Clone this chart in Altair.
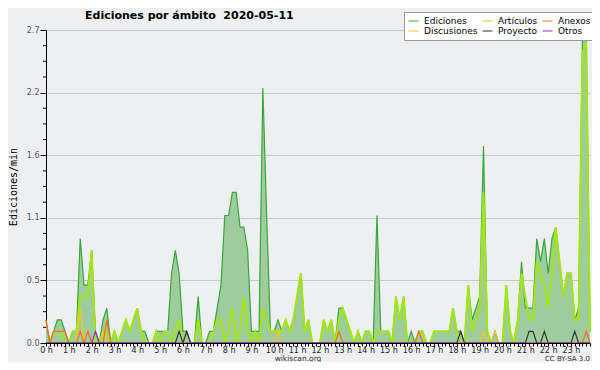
import altair as alt
import pandas as pd

# 10-minute slots (0 .. 143) over the day
slots = list(range(144))

ediciones = [
    0.2, 0, 0.1, 0.2, 0.2, 0.1, 0, 0.1, 0.1, 0.9, 0.5, 0.5,
    0.8, 0.1, 0, 0.2, 0.3, 0, 0.1, 0, 0.1, 0.2, 0.1, 0.2,
    0.3, 0.1, 0.1, 0, 0, 0.1, 0.1, 0.1, 0.1, 0.6, 0.8, 0.6,
    0.1, 0.1, 0, 0, 0.4, 0, 0, 0.1, 0.1, 0.3, 0.5, 1.1,
    1.1, 1.3, 1.3, 1.0, 1.0, 0.8, 0.1, 0.1, 0.1, 2.2, 1.1, 0.1,
    0.1, 0.2, 0.1, 0.2, 0.1, 0.2, 0.4, 0.6, 0.1, 0.2, 0, 0,
    0, 0.2, 0.1, 0.2, 0, 0.3, 0.3, 0.2, 0.1, 0, 0.1, 0,
    0.1, 0.1, 0, 1.1, 0.1, 0.1, 0.1, 0, 0.4, 0.2, 0.4, 0,
    0.1, 0, 0.1, 0.1, 0, 0, 0.1, 0.1, 0.1, 0.1, 0.1, 0.3,
    0.1, 0.1, 0, 0.5, 0.2, 0.3, 0.4, 1.7, 0.1, 0, 0.1, 0,
    0, 0.5, 0.1, 0, 0.2, 0.7, 0.3, 0.3, 0.3, 0.9, 0.7, 0.9,
    0.6, 0.9, 1.0, 0.7, 0.4, 0.6, 0.6, 0.2, 0.3, 2.6, 2.7, 0.1,
]

articulos = [
    0, 0, 0.1, 0.1, 0.1, 0, 0, 0.1, 0.1, 0.4, 0.4, 0.4,
    0.8, 0, 0, 0.1, 0.1, 0, 0.1, 0, 0.1, 0.2, 0.1, 0.2,
    0.3, 0.1, 0, 0, 0, 0.1, 0, 0.1, 0.1, 0, 0.1, 0.2,
    0, 0, 0, 0, 0.2, 0, 0, 0, 0.1, 0.2, 0.2, 0,
    0.1, 0.3, 0, 0.1, 0.4, 0.1, 0, 0.1, 0, 0.3, 0.2, 0.1,
    0.1, 0.1, 0.1, 0.2, 0.1, 0.2, 0.4, 0.6, 0.1, 0.2, 0, 0,
    0, 0.2, 0.1, 0.2, 0, 0.2, 0.3, 0.2, 0.1, 0, 0.1, 0,
    0.1, 0.1, 0, 0.1, 0.1, 0.1, 0.1, 0, 0.4, 0.2, 0.4, 0,
    0, 0, 0.1, 0.1, 0, 0, 0.1, 0.1, 0.1, 0.1, 0.1, 0.3,
    0.1, 0, 0, 0.5, 0.1, 0.2, 0.3, 1.3, 0.1, 0, 0, 0,
    0, 0.5, 0.1, 0, 0.2, 0.6, 0.4, 0.2, 0.2, 0.7, 0.6, 0.5,
    0.3, 0.6, 1.0, 0.7, 0.4, 0.6, 0.6, 0.2, 0.2, 2.5, 2.6, 0.1,
]

discusiones = [
    0, 0, 0, 0, 0, 0, 0, 0, 0, 0.3, 0, 0,
    0, 0, 0, 0.1, 0, 0, 0, 0, 0, 0, 0, 0,
    0, 0, 0, 0, 0, 0, 0, 0, 0, 0, 0, 0,
    0, 0, 0, 0, 0, 0, 0, 0, 0, 0, 0, 0,
    0, 0, 0, 0, 0, 0, 0, 0, 0, 0, 0, 0,
    0, 0.1, 0, 0, 0, 0, 0, 0, 0, 0, 0, 0,
    0, 0, 0, 0, 0, 0, 0, 0, 0, 0, 0, 0,
    0, 0, 0, 0, 0, 0, 0, 0, 0, 0, 0, 0,
    0, 0, 0, 0, 0, 0, 0, 0, 0, 0, 0, 0,
    0, 0, 0, 0, 0, 0, 0, 0.1, 0, 0, 0.1, 0,
    0, 0, 0, 0, 0, 0, 0, 0, 0, 0, 0, 0.1,
    0, 0, 0, 0, 0, 0, 0, 0, 0, 0, 0, 0,
]

anexos = [
    0.2, 0, 0.1, 0.1, 0.1, 0.1, 0, 0, 0, 0.1, 0, 0.1,
    0, 0, 0, 0, 0.2, 0, 0, 0, 0, 0, 0, 0,
    0, 0, 0, 0, 0, 0, 0, 0, 0, 0, 0, 0,
    0, 0, 0, 0, 0, 0, 0, 0, 0, 0, 0, 0,
    0, 0, 0, 0, 0, 0, 0, 0, 0, 0, 0, 0,
    0, 0, 0, 0, 0, 0, 0, 0, 0, 0, 0, 0,
    0, 0, 0, 0, 0, 0.1, 0, 0, 0, 0, 0, 0,
    0, 0, 0, 0, 0, 0, 0, 0, 0, 0, 0, 0,
    0, 0, 0.1, 0, 0, 0, 0, 0, 0, 0, 0, 0,
    0, 0, 0, 0, 0, 0, 0, 0, 0, 0, 0, 0,
    0, 0, 0, 0, 0, 0, 0, 0, 0, 0, 0, 0,
    0, 0, 0, 0, 0, 0, 0, 0, 0, 0, 0.1, 0,
]

proyecto = [
    0, 0, 0, 0, 0, 0, 0, 0, 0, 0, 0, 0,
    0, 0, 0, 0, 0, 0, 0, 0, 0, 0, 0, 0,
    0, 0, 0, 0, 0, 0, 0, 0, 0, 0, 0, 0.1,
    0, 0.1, 0, 0, 0, 0, 0, 0, 0, 0, 0, 0,
    0, 0, 0, 0, 0, 0, 0, 0, 0, 0, 0, 0,
    0, 0, 0, 0, 0, 0, 0, 0, 0, 0, 0, 0,
    0, 0, 0, 0, 0, 0, 0, 0, 0, 0, 0, 0,
    0, 0, 0, 0, 0, 0, 0, 0, 0, 0, 0, 0,
    0, 0, 0, 0, 0, 0, 0, 0, 0, 0, 0, 0,
    0, 0.1, 0, 0, 0, 0, 0, 0, 0, 0, 0, 0,
    0, 0, 0, 0, 0, 0, 0, 0.1, 0.1, 0, 0, 0.1,
    0, 0, 0, 0, 0, 0, 0, 0.1, 0, 0, 0, 0,
]

otros = [
    0, 0, 0, 0, 0, 0, 0, 0, 0, 0, 0, 0,
    0, 0.1, 0, 0, 0, 0, 0, 0, 0, 0, 0, 0,
] + [0] * 120

# legend is filled column by column: (Ediciones, Discusiones), (Artículos, Proyecto), (Anexos, Otros)
series_names = ["Ediciones", "Discusiones", "Artículos", "Proyecto", "Anexos", "Otros"]
series_colors = ["#36a836", "#ffc21a", "#a2e612", "#333333", "#ff6a1a", "#8a2be2"]
draw_order = ["Ediciones", "Artículos", "Discusiones", "Anexos", "Proyecto", "Otros"]

y_major = [0, 0.54, 1.08, 1.62, 2.16, 2.7]
y_minor = [0.135, 0.27, 0.405, 0.675, 0.81, 0.945, 1.215, 1.35, 1.485,
           1.755, 1.89, 2.025, 2.295, 2.43, 2.565]

title_text = "Ediciones por ámbito \u00a02020-05-11"
site_text = "wikiscan.org"
license_text = "CC BY-SA 3.0"

values_by_series = {
    "Ediciones": ediciones, "Artículos": articulos, "Discusiones": discusiones,
    "Anexos": anexos, "Proyecto": proyecto, "Otros": otros,
}
rows = []
for name, vals in values_by_series.items():
    for s, v in zip(slots, vals):
        rows.append({"slot": s, "series": name, "value": v})
df = pd.DataFrame(rows)

BG = "#eeeff1"

x_scale = alt.Scale(domain=[0, 143], nice=False, zero=False)
y_scale = alt.Scale(domain=[0, 2.7], nice=False)

x_enc = alt.X("slot:Q", scale=x_scale, title=None,
              axis=alt.Axis(values=slots, labelExpr="datum.value % 6 == 0 ? (datum.value / 6) + ' h' : ''",
                            labelOverlap=False, labelFlush=False, tickSize=3, tickColor="black",
                            domainColor="black", labelColor="#222", labelFontSize=8,
                            labelFont="DejaVu Sans", labelPadding=0, grid=False, zindex=1))
y_axis = alt.Axis(values=y_major, format=".1f", tickSize=6, tickColor="black",
                  domainColor="black", labelColor="#555", labelFontSize=8,
                  labelFont="DejaVu Sans", labelPadding=1, gridColor="#c8c8c8",
                  title="Ediciones/min", titleFont="DejaVu Sans Mono", titleFontSize=10,
                  titleFontWeight="normal", titleColor="black", titlePadding=8)
y_enc = alt.Y("value:Q", scale=y_scale, axis=y_axis)

legend = alt.Legend(title=None, orient="none", legendX=358, legendY=-18, columns=3,
                    symbolType="stroke", symbolSize=100, symbolStrokeWidth=1,
                    labelFontSize=9, labelFont="DejaVu Sans", labelColor="black",
                    fillColor="white", strokeColor="#999", padding=4, columnPadding=4,
                    rowPadding=0, labelOffset=5, clipHeight=10)
color_enc = alt.Color("series:N", scale=alt.Scale(domain=series_names, range=series_colors),
                      legend=legend)

base = alt.Chart(df)
area = base.transform_filter(alt.datum.series == "Ediciones").mark_area(
    color="#9fcc9f", opacity=1).encode(x=x_enc, y=y_enc)

layers = [area]
for name in draw_order:
    layers.append(
        base.transform_filter(alt.datum.series == name)
        .mark_line(strokeWidth=2 if name == "Artículos" else 1.2, strokeJoin="miter")
        .encode(x=x_enc, y=y_enc, color=color_enc)
    )

minor = alt.Chart(pd.DataFrame({"value": y_minor})).mark_rule(color="black").encode(
    y=y_enc, x=alt.value(-3), x2=alt.value(0))

title = alt.Chart(pd.DataFrame({"t": [title_text]})).mark_text(
    fontSize=11, font="DejaVu Sans", fontWeight="bold", color="black", align="left",
    baseline="alphabetic"
).encode(text="t:N", x=alt.value(39), y=alt.value(-11.5))

site = alt.Chart(pd.DataFrame({"t": [site_text]})).mark_text(
    fontSize=7.5, font="DejaVu Sans", color="#333", align="center", baseline="alphabetic"
).encode(text="t:N", x=alt.value(252), y=alt.value(331))

lic = alt.Chart(pd.DataFrame({"t": [license_text]})).mark_text(
    fontSize=7, font="DejaVu Sans", color="#333", align="right", baseline="alphabetic"
).encode(text="t:N", x=alt.value(544), y=alt.value(331))

chart = alt.layer(*layers, minor, title, site, lic).properties(
    width=544, height=313,
    autosize=alt.AutoSizeParams(type="none"),
    padding={"left": 38, "top": 22, "right": 2, "bottom": 19},
    background=BG,
).configure_view(stroke=None, fill=BG)

chart.save("out.html", embed_options={"renderer": "svg", "actions": False})
